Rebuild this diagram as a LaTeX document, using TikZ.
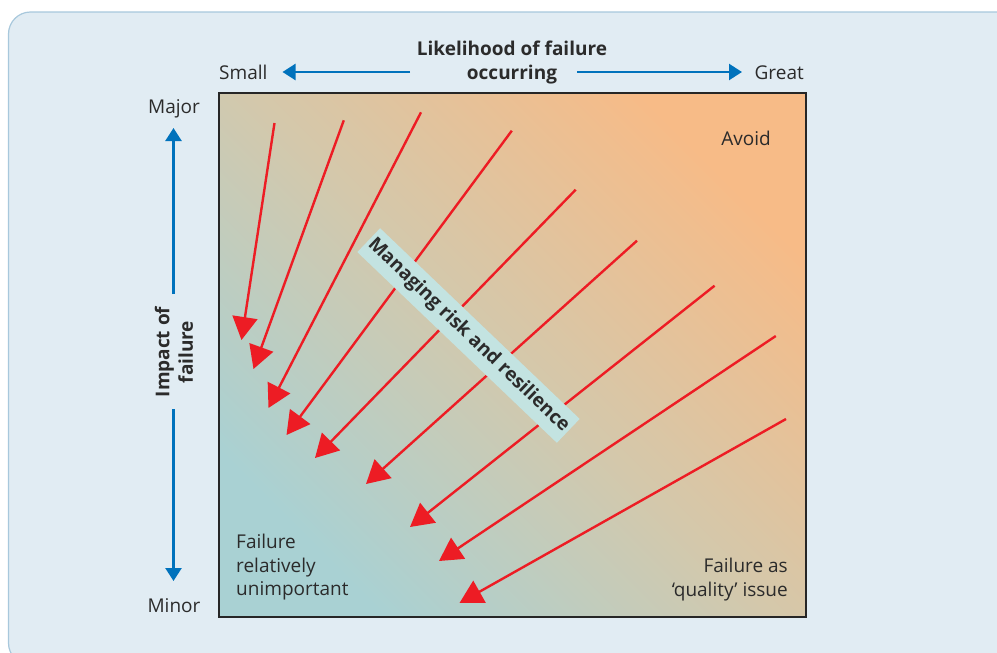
\documentclass[tikz,border=0pt]{standalone}
\usepackage{fontspec}
\setmainfont{Open Sans}
\usetikzlibrary{arrows.meta}
\definecolor{panelfill}{HTML}{E1ECF3}
\definecolor{panelline}{HTML}{A8C8DC}
\definecolor{hotc}{HTML}{F7BB87}
\definecolor{midc}{HTML}{D4C8AB}
\definecolor{coolc}{HTML}{A9D1D3}
\definecolor{redc}{HTML}{ED1C24}
\definecolor{bluec}{HTML}{0072BC}
\definecolor{txt}{HTML}{2B2B2B}
\definecolor{boxteal}{HTML}{C3E3E1}
\tikzset{
  lbl/.style={text=txt, font=\fontsize{19}{23.5}\selectfont, inner sep=0pt},
  blbl/.style={text=txt, font=\fontsize{19}{23.5}\selectfont\bfseries, inner sep=0pt},
  redarrow/.style={draw=redc, line width=2.4pt, -{Triangle[length=23pt,width=25pt]}},
  bluearrow/.style={draw=bluec, line width=2.4pt, -{Triangle[length=13pt,width=16pt]}},
}
\begin{document}
\begin{tikzpicture}[x=1pt,y=-1pt]
\useasboundingbox (0,0) rectangle (997,653);
% panel
\draw[panelline, fill=panelfill, line width=1.2pt, rounded corners=22pt] (8.5,12) rectangle (1020,665);
% square with gradient
\path[top color=hotc, bottom color=coolc, middle color=midc, shading angle=-45] (219,93) rectangle (806,617);
\draw[draw=black!85, line width=2pt] (219,93) rectangle (806,617);
% red arrows
\coordinate (s1) at (274.5,123);   \coordinate (t1) at (241.5,340);
\coordinate (s2) at (343.8,120.3); \coordinate (t2) at (253.5,369);
\coordinate (s3) at (421,112.3);   \coordinate (t3) at (268.5,408);
\coordinate (s4) at (511.8,130.7); \coordinate (t4) at (286.5,435);
\coordinate (s5) at (575.7,189.7); \coordinate (t5) at (315,458);
\coordinate (s6) at (637,240.7);   \coordinate (t6) at (366,484);
\coordinate (s7) at (714.6,285.7); \coordinate (t7) at (410,527);
\coordinate (s8) at (775.8,336);   \coordinate (t8) at (439,561);
\coordinate (s9) at (786,419);     \coordinate (t9) at (459.5,603);
\foreach \i in {1,...,9} {\draw[redarrow] (s\i) -- (t\i);}
% diagonal label
\node[blbl, rotate=-43.7, fill=boxteal, minimum width=276pt, minimum height=33pt] (mrr) at (468.5,335.5) {Managing risk and resilience};
% corner labels
\node[lbl, anchor=base east] (avoid) at (771,145) {Avoid};
\node[lbl, anchor=north west, align=left] (unimp) at (236,534) {Failure\\relatively\\unimportant};
\node[lbl, anchor=north east, align=right] (qual) at (788,558) {Failure as\\‘quality’ issue};
% top axis
\node[blbl, align=center] (lik) at (512,62.5) {Likelihood of failure\\occurring};
\node[lbl, anchor=base west] (small) at (219,79) {Small};
\node[lbl, anchor=base east] (great) at (804,79) {Great};
\coordinate (hl0) at (410,72); \coordinate (hl1) at (282.5,72);
\coordinate (hr0) at (577,72); \coordinate (hr1) at (742,72);
\draw[bluearrow] (hl0) -- (hl1);
\draw[bluearrow] (hr0) -- (hr1);
% left axis
\node[lbl] (major) at (174,109) {Major};
\node[lbl] (minor) at (174,606) {Minor};
\node[blbl, rotate=90, align=center] (imp) at (174,352) {Impact of\\failure};
\coordinate (vt0) at (173.5,294); \coordinate (vt1) at (173.5,128);
\coordinate (vb0) at (173.5,409); \coordinate (vb1) at (173.5,581);
\draw[bluearrow] (vt0) -- (vt1);
\draw[bluearrow] (vb0) -- (vb1);
\end{tikzpicture}
\end{document}
